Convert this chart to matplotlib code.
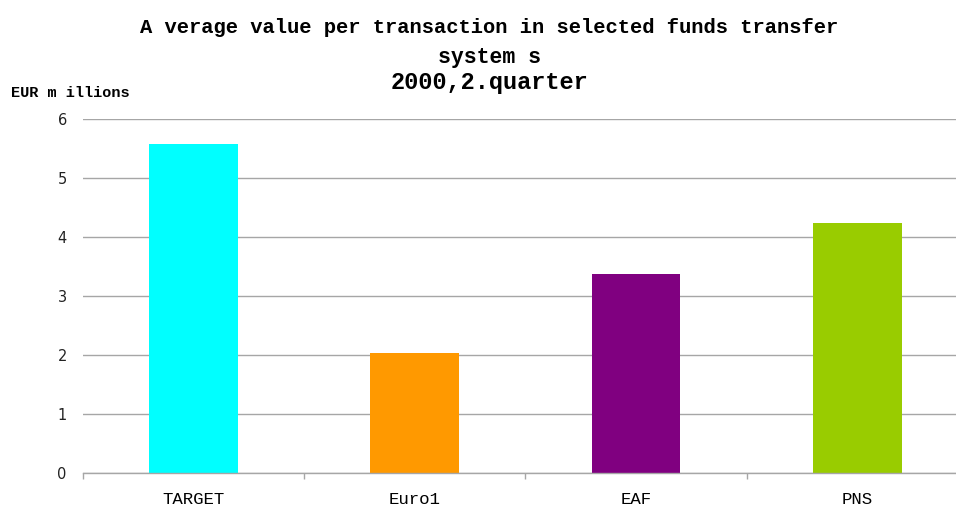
import matplotlib.pyplot as plt
import numpy as np

systems = ['TARGET', 'Euro1', 'EAF', 'PNS']
avg_value = [5.58, 2.03, 3.37, 4.23]
bar_colors = ['#00ffff', '#ff9900', '#800080', '#99cc00']
y_ticks = [0, 1, 2, 3, 4, 5, 6]

title_lines = ['A verage value per transaction in selected funds transfer',
               'system s',
               '2000,2.quarter']
unit_label = 'EUR m illions'

W, H = 956, 508
fig = plt.figure(figsize=(W / 100, H / 100), dpi=100)
# plot area runs a bit past the right edge of the figure, as in the original
left, right, top, bottom = 82.8, 968.0, 119.0, 473.0
ax = fig.add_axes([left / W, 1 - bottom / H, (right - left) / W, (bottom - top) / H])

x = np.arange(len(systems))
ax.bar(x, avg_value, width=0.4, color=bar_colors, zorder=3)

ax.set_xlim(-0.5, len(systems) - 0.5)
ax.set_ylim(0, 6)
ax.set_yticks(y_ticks)
ax.yaxis.grid(True, color='#a6a6a6', linewidth=1.0, zorder=0)
ax.tick_params(axis='y', length=0, pad=11.5, labelsize=10.5, labelcolor='#222222')

# category boundaries get tick marks, labels sit in the middle
ax.set_xticks(np.arange(len(systems) + 1) - 0.5)
ax.set_xticklabels([])
ax.tick_params(axis='x', which='major', length=4.5, width=1.0, color='#a6a6a6')
ax.set_xticks(x, minor=True)
ax.set_xticklabels(systems, minor=True, family='Liberation Mono', fontsize=12.5)
ax.tick_params(axis='x', which='minor', length=0, pad=13.5)

for side in ['left', 'right', 'top']:
    ax.spines[side].set_visible(False)
ax.spines['bottom'].set_color('#a6a6a6')
ax.spines['bottom'].set_linewidth(1.0)
ax.spines['bottom'].set_zorder(4)

cx = 489 / W
fig.text(cx, 1 - 33 / H, title_lines[0], ha='center', va='baseline',
         family='Liberation Mono', fontweight='bold', fontsize=14.8)
fig.text(cx, 1 - 63 / H, title_lines[1], ha='center', va='baseline',
         family='Liberation Mono', fontweight='bold', fontsize=15.5)
fig.text(cx, 1 - 89 / H, title_lines[2], ha='center', va='baseline',
         family='Liberation Mono', fontweight='bold', fontsize=17)
fig.text(11 / W, 1 - 97 / H, unit_label, ha='left', va='baseline',
         family='Liberation Mono', fontweight='bold', fontsize=11)

fig.savefig('out.png', dpi=100)
